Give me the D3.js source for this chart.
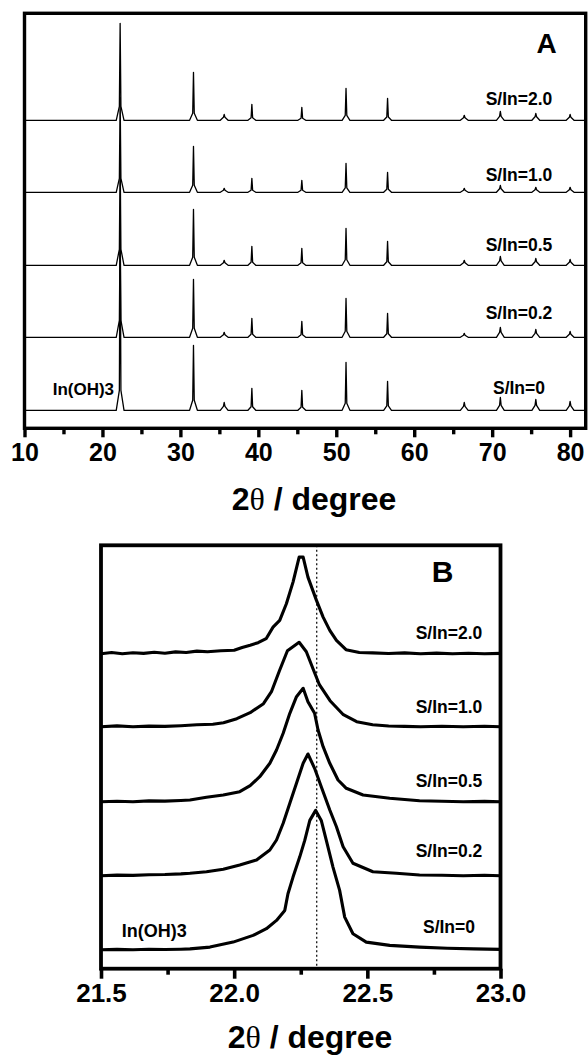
<!DOCTYPE html>
<html>
<head>
<meta charset="utf-8">
<script src="https://cdn.jsdelivr.net/npm/d3@7"></script>
<style>
  body { margin: 0; background: #fff; }
  svg text { font-family: "Liberation Sans", Arial, sans-serif; font-weight: bold; fill: #000; }
</style>
</head>
<body>
<svg id="chart" width="588" height="1058"></svg>
<script>
// ---- data ----
var seriesNames = ["S/In=0", "S/In=0.2", "S/In=0.5", "S/In=1.0", "S/In=2.0"];
var offsetsA = [18, 91, 163, 236, 308];   // stacking offsets (a.u.)
var offsetsB = [19, 93, 167, 242, 315];

// panel A : full pattern, shared 2theta grid
var thetaA = [10.0,
  21.77, 22.17, 22.27, 22.37, 22.77,
  31.18, 31.58, 31.68, 31.78, 32.18,
  35.12, 35.52, 35.62, 35.72, 36.12,
  38.67, 39.07, 39.17, 39.27, 39.67,
  45.08, 45.48, 45.58, 45.68, 46.08,
  50.75, 51.15, 51.25, 51.35, 51.75,
  56.08, 56.48, 56.58, 56.68, 57.08,
  65.92, 66.32, 66.42, 66.52, 66.92,
  70.55, 70.95, 71.05, 71.15, 71.55,
  75.10, 75.50, 75.60, 75.70, 76.10,
  79.50, 79.90, 80.00, 80.10, 80.50,
  82.0];
var intA_0  = [0, 0,20,200,20,0, 0,10,65,10,0, 0,4,8,4,0, 0,3.5,22,3.5,0, 0,3,20,3,0, 0,7,48,7,0, 0,4.5,29,4.5,0, 0,4,8,4,0, 0,5,13,5,0, 0,5,11,5,0, 0,4.5,9,4.5,0, 0];
var intA_02 = [0, 0,17,112,17,0, 0,9,58,9,0, 0,2.5,5,2.5,0, 0,3,19,3,0, 0,2.5,16,2.5,0, 0,6,39,6,0, 0,3.5,24,3.5,0, 0,2,4,2,0, 0,5,10,5,0, 0,4,8,4,0, 0,3,6,3,0, 0];
var intA_05 = [0, 0,16,110,16,0, 0,8,56,8,0, 0,2.5,5,2.5,0, 0,3,19,3,0, 0,2.5,17,2.5,0, 0,5.5,37,5.5,0, 0,3.5,24,3.5,0, 0,2.5,5,2.5,0, 0,4.5,9,4.5,0, 0,3.5,7,3.5,0, 0,3,6,3,0, 0];
var intA_10 = [0, 0,14,95,14,0, 0,7,46,7,0, 0,2,4,2,0, 0,2,14,2,0, 0,2,12,2,0, 0,4.5,29,4.5,0, 0,3,20,3,0, 0,2,4,2,0, 0,3.5,7,3.5,0, 0,2.5,5,2.5,0, 0,2.5,5,2.5,0, 0];
var intA_20 = [0, 0,14,97,14,0, 0,7,48,7,0, 0,3,6,3,0, 0,2.5,16,2.5,0, 0,2,13,2,0, 0,5,32,5,0, 0,3.3,22,3.3,0, 0,2.5,5,2.5,0, 0,4,9,4,0, 0,3.5,7,3.5,0, 0,3,6,3,0, 0];

// panel B : (200) reflection, [2theta, intensity]
var peakB_0 = [[21.50,0],[21.56,0.3],[21.62,0],[21.68,0.5],[21.74,0.2],[21.80,0.5],[21.834,0.8],[21.909,2.6],[21.996,7.6],[22.071,14.3],[22.121,21],[22.159,29.3],[22.19,39.3],[22.202,56],[22.221,72.6],[22.246,92.6],[22.265,109.3],[22.284,129.3],[22.306,139.3],[22.327,129.3],[22.346,109.3],[22.371,82.6],[22.396,59.3],[22.415,32.6],[22.446,16],[22.496,7.6],[22.584,4.3],[22.696,2.6],[22.80,1.5],[22.90,0.8],[23.0,0.3]];
var peakB_02 = [[21.50,0],[21.56,0.6],[21.62,0.3],[21.68,1],[21.74,1.2],[21.80,1.8],[21.834,2.4],[21.896,4],[21.959,6.4],[22.021,10.7],[22.084,15.7],[22.134,25.7],[22.159,35.7],[22.184,52.4],[22.209,72.4],[22.234,92.4],[22.259,112.4],[22.277,121.7],[22.302,107.4],[22.327,89],[22.359,65.7],[22.384,49],[22.409,29],[22.446,12.4],[22.521,4],[22.609,2.4],[22.696,0.7],[22.78,0.5],[22.86,0],[22.94,0.4],[23.0,0]];
var peakB_05 = [[21.50,0],[21.56,0.5],[21.62,0],[21.68,0.8],[21.74,0.6],[21.80,1.2],[21.834,1.7],[21.896,4.4],[21.959,6.7],[22.021,10],[22.06,16],[22.096,25],[22.134,38.4],[22.159,51.7],[22.184,68.4],[22.209,88.4],[22.234,105],[22.259,113.4],[22.277,100],[22.302,88.4],[22.315,71.7],[22.334,55],[22.359,38.4],[22.39,21.7],[22.421,13.4],[22.484,6.7],[22.584,3.4],[22.696,1],[22.78,0.5],[22.86,0],[22.94,0.3],[23.0,0]];
var peakB_10 = [[21.50,0],[21.56,0.8],[21.62,0],[21.68,0.6],[21.74,0.3],[21.80,1],[21.86,2],[21.92,2.5],[21.96,4],[22.01,8],[22.06,14],[22.11,23],[22.14,35],[22.17,56],[22.20,76],[22.244,84.4],[22.271,75],[22.296,58],[22.32,42],[22.36,26],[22.41,12],[22.46,5],[22.52,2],[22.58,0.7],[22.64,0.3],[22.70,0],[22.78,0.5],[22.86,0],[22.94,0.4],[23.0,0]];
var peakB_20 = [[21.50,0],[21.54,1.2],[21.58,0],[21.62,1],[21.66,0.3],[21.70,1.5],[21.74,0.5],[21.78,1.8],[21.82,1.2],[21.86,2.6],[21.90,2],[21.95,3],[22.00,3.4],[22.03,6.2],[22.06,8.5],[22.09,11],[22.12,15],[22.146,26.6],[22.171,33.3],[22.196,50],[22.221,71.6],[22.244,96.6],[22.259,96.6],[22.277,76.6],[22.309,53.3],[22.334,36.6],[22.359,23.3],[22.384,13.3],[22.42,4],[22.47,1.2],[22.52,0.8],[22.58,0.2],[22.64,0.8],[22.70,0],[22.76,0.6],[22.82,0],[22.88,0.5],[22.94,0],[23.0,0.3]];
var refLineB = 22.31;

var ticksA = [10, 20, 30, 40, 50, 60, 70, 80];
var minorA = [15, 25, 35, 45, 55, 65, 75];
var ticksB = [21.5, 22.0, 22.5, 23.0];
var minorB = [21.75, 22.25, 22.75];

var svg = d3.select("#chart");

// scales
var xA = d3.scaleLinear().domain([10, 82]).range([24.5, 585.7]);
var yA = d3.scaleLinear().domain([0, 415]).range([428.3, 13.3]);
var xB = d3.scaleLinear().domain([21.5, 23.0]).range([101, 500.5]);
var yB = d3.scaleLinear().domain([0, 423.4]).range([968.7, 545.3]);

// ---------- panel A ----------
var gA = svg.append("g");
var seriesA = [intA_0, intA_02, intA_05, intA_10, intA_20];
var labelDyA = [16.7, 18.4, 14, 11, 15.7];

seriesA.forEach(function(vals, k) {
  var pts = thetaA.map(function(t, i) { return [t, vals[i] + offsetsA[k]]; });
  gA.append("path")
    .datum(pts)
    .attr("fill", "none")
    .attr("stroke", "#000")
    .attr("stroke-width", 1.3)
    .attr("stroke-linejoin", "round")
    .attr("d", d3.line().x(function(d) { return xA(d[0]); }).y(function(d) { return yA(d[1]); }));
  gA.append("text")
    .attr("x", 519)
    .attr("y", yA(offsetsA[k]) - labelDyA[k])
    .attr("text-anchor", "middle")
    .style("font-size", "17.5px")
    .text(seriesNames[k]);
});
gA.append("text").attr("x", 52.7).attr("y", 395).style("font-size", "17px").text("In(OH)3");

gA.append("rect")
  .attr("x", xA(10)).attr("y", yA(415))
  .attr("width", xA(82) - xA(10)).attr("height", yA(0) - yA(415))
  .attr("fill", "none").attr("stroke", "#000").attr("stroke-width", 3.4);

var axA = gA.append("g").attr("transform", "translate(0," + yA(0) + ")")
  .call(d3.axisBottom(xA).tickValues(ticksA).tickSize(9).tickFormat(d3.format("d")));
var axAm = gA.append("g").attr("transform", "translate(0," + yA(0) + ")")
  .call(d3.axisBottom(xA).tickValues(minorA).tickSize(6).tickFormat(""));
[axA, axAm].forEach(function(a) {
  a.select(".domain").remove();
  a.selectAll("line").attr("stroke", "#000").style("stroke-width", "3.4px");
});
axA.selectAll("text").attr("y", 33).attr("dy", null)
  .style("font-size", "25px").style("font-family", "Liberation Sans, Arial, sans-serif").style("font-weight", "bold");

gA.append("text").attr("x", 546.7).attr("y", 53.3).attr("text-anchor", "middle").style("font-size", "28px").text("A");

var tA = gA.append("text").attr("x", 314).attr("y", 510).attr("text-anchor", "middle").style("font-size", "32px");
tA.append("tspan").text("2");
tA.append("tspan").style("font-family", "Liberation Serif, serif").style("font-weight", "normal").text("θ");
tA.append("tspan").text(" / degree");

// ---------- panel B ----------
var gB = svg.append("g");
var seriesB = [peakB_0, peakB_02, peakB_05, peakB_10, peakB_20];
var labelDyB = [16.4, 19, 14.4, 13.4, 14.7];

gB.append("line")
  .attr("x1", xB(refLineB)).attr("x2", xB(refLineB))
  .attr("y1", yB(423.4)).attr("y2", yB(0))
  .attr("stroke", "#000").attr("stroke-width", 1.2).attr("stroke-dasharray", "2,2.5");

seriesB.forEach(function(pts, k) {
  gB.append("path")
    .datum(pts)
    .attr("fill", "none")
    .attr("stroke", "#000")
    .attr("stroke-width", 3.1)
    .attr("stroke-linejoin", "round")
    .attr("d", d3.line().x(function(d) { return xB(d[0]); }).y(function(d) { return yB(d[1] + offsetsB[k]); }));
  gB.append("text")
    .attr("x", 449)
    .attr("y", yB(offsetsB[k]) - labelDyB[k])
    .attr("text-anchor", "middle")
    .style("font-size", "17.5px")
    .text(seriesNames[k]);
});
gB.append("text").attr("x", 121.7).attr("y", 936.7).style("font-size", "18px").text("In(OH)3");

gB.append("rect")
  .attr("x", xB(21.5)).attr("y", yB(423.4))
  .attr("width", xB(23) - xB(21.5)).attr("height", yB(0) - yB(423.4))
  .attr("fill", "none").attr("stroke", "#000").attr("stroke-width", 3.8);

var axB = gB.append("g").attr("transform", "translate(0," + yB(0) + ")")
  .call(d3.axisBottom(xB).tickValues(ticksB).tickSize(10).tickFormat(d3.format(".1f")));
var axBm = gB.append("g").attr("transform", "translate(0," + yB(0) + ")")
  .call(d3.axisBottom(xB).tickValues(minorB).tickSize(6).tickFormat(""));
[axB, axBm].forEach(function(a) {
  a.select(".domain").remove();
  a.selectAll("line").attr("stroke", "#000").style("stroke-width", "3.6px");
});
axB.selectAll("text").attr("y", 33).attr("dy", null)
  .style("font-size", "26px").style("font-family", "Liberation Sans, Arial, sans-serif").style("font-weight", "bold");

gB.append("text").attr("x", 442.5).attr("y", 581.7).attr("text-anchor", "middle").style("font-size", "30px").text("B");

var tB = gB.append("text").attr("x", 310).attr("y", 1048).attr("text-anchor", "middle").style("font-size", "32px");
tB.append("tspan").text("2");
tB.append("tspan").style("font-family", "Liberation Serif, serif").style("font-weight", "normal").text("θ");
tB.append("tspan").text(" / degree");
</script>
</body>
</html>
